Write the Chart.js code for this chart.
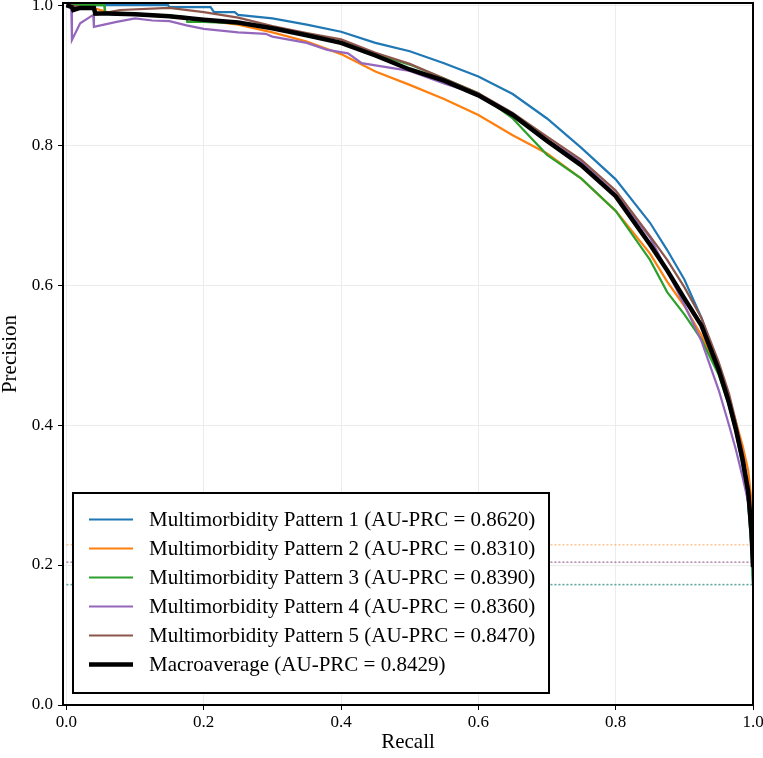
<!DOCTYPE html>
<html>
<head>
<meta charset="utf-8">
<script src="https://cdn.jsdelivr.net/npm/chart.js@4/dist/chart.umd.min.js"></script>
<style>
  body { margin: 0; background: #fff; }
  #wrap { width: 763px; height: 758px; }
</style>
</head>
<body>
<div id="wrap"><canvas id="prChart" width="763" height="758"></canvas></div>
<script>
const serif = "'Liberation Serif', 'Times New Roman', serif";

const patternNames = ["Multimorbidity Pattern 1", "Multimorbidity Pattern 2", "Multimorbidity Pattern 3",
  "Multimorbidity Pattern 4", "Multimorbidity Pattern 5"];
const auprc = ["0.8620", "0.8310", "0.8390", "0.8360", "0.8470"];
const macroAuprc = "0.8429";
const colors = ["#1f77b4", "#ff7f0e", "#2ca02c", "#9467bd", "#8c564b"];
const baselines = [0.172, 0.229, 0.172, 0.204, 0.204];
const xTicks = [0, 0.2, 0.4, 0.6, 0.8, 1.0];
const yTicks = [0, 0.2, 0.4, 0.6, 0.8, 1.0];

const recall1 = [0, 0.148, 0.15, 0.21, 0.215, 0.245, 0.25, 0.3, 0.35, 0.4, 0.45, 0.5, 0.55, 0.6, 0.65, 0.7, 0.75, 0.8, 0.85, 0.875, 0.9, 0.925, 0.95, 0.965, 0.975, 0.985, 0.993, 0.998, 1.0];
const prec1 = [1.0, 1.0, 0.997, 0.997, 0.99, 0.99, 0.986, 0.981, 0.972, 0.962, 0.946, 0.934, 0.917, 0.898, 0.873, 0.838, 0.796, 0.751, 0.689, 0.65, 0.608, 0.553, 0.482, 0.43, 0.39, 0.34, 0.29, 0.22, 0.172];

const recall2 = [0, 0.04, 0.042, 0.06, 0.1, 0.15, 0.2, 0.25, 0.3, 0.35, 0.4, 0.45, 0.5, 0.55, 0.6, 0.65, 0.7, 0.75, 0.8, 0.85, 0.875, 0.9, 0.925, 0.95, 0.965, 0.975, 0.985, 0.993, 0.998, 1.0];
const prec2 = [1.0, 1.0, 0.995, 0.99, 0.986, 0.983, 0.978, 0.972, 0.961, 0.948, 0.93, 0.905, 0.886, 0.866, 0.843, 0.814, 0.788, 0.752, 0.706, 0.645, 0.605, 0.57, 0.528, 0.476, 0.437, 0.405, 0.37, 0.335, 0.29, 0.229];

const recall3 = [0, 0.055, 0.056, 0.1, 0.15, 0.175, 0.176, 0.2, 0.25, 0.3, 0.35, 0.4, 0.45, 0.5, 0.55, 0.6, 0.65, 0.7, 0.75, 0.8, 0.85, 0.875, 0.9, 0.925, 0.95, 0.965, 0.975, 0.985, 0.993, 0.998, 1.0];
const prec3 = [1.0, 1.0, 0.99, 0.988, 0.985, 0.983, 0.976, 0.976, 0.974, 0.967, 0.956, 0.946, 0.93, 0.915, 0.895, 0.874, 0.838, 0.786, 0.752, 0.706, 0.636, 0.59, 0.558, 0.522, 0.472, 0.428, 0.39, 0.345, 0.29, 0.22, 0.172];

const recall4 = [0, 0.007, 0.008, 0.02, 0.039, 0.04, 0.073, 0.1, 0.125, 0.15, 0.175, 0.2, 0.25, 0.29, 0.3, 0.35, 0.38, 0.41, 0.43, 0.45, 0.5, 0.55, 0.6, 0.65, 0.7, 0.75, 0.8, 0.85, 0.875, 0.9, 0.925, 0.95, 0.965, 0.975, 0.985, 0.993, 0.998, 1.0];
const prec4 = [1.0, 1.0, 0.95, 0.974, 0.986, 0.969, 0.976, 0.981, 0.978, 0.977, 0.971, 0.966, 0.961, 0.959, 0.955, 0.946, 0.936, 0.931, 0.917, 0.914, 0.906, 0.888, 0.872, 0.843, 0.808, 0.776, 0.73, 0.668, 0.62, 0.572, 0.52, 0.45, 0.4, 0.365, 0.325, 0.29, 0.25, 0.204];

const recall5 = [0, 0.04, 0.041, 0.078, 0.15, 0.2, 0.25, 0.3, 0.35, 0.4, 0.45, 0.5, 0.55, 0.6, 0.65, 0.7, 0.75, 0.8, 0.85, 0.875, 0.9, 0.925, 0.95, 0.965, 0.975, 0.985, 0.993, 0.998, 1.0];
const prec5 = [1.0, 0.995, 0.986, 0.993, 0.996, 0.99, 0.982, 0.97, 0.96, 0.951, 0.932, 0.916, 0.895, 0.874, 0.846, 0.812, 0.779, 0.735, 0.67, 0.636, 0.597, 0.553, 0.49, 0.445, 0.405, 0.36, 0.31, 0.26, 0.204];

const recallMacro = [0, 0.008, 0.01, 0.02, 0.04, 0.042, 0.06, 0.1, 0.15, 0.2, 0.25, 0.3, 0.35, 0.4, 0.45, 0.5, 0.55, 0.6, 0.65, 0.7, 0.75, 0.8, 0.85, 0.875, 0.9, 0.925, 0.95, 0.965, 0.975, 0.985, 0.993, 0.998, 1.0];
const precMacro = [1.0, 0.997, 0.993, 0.996, 0.996, 0.988, 0.988, 0.987, 0.984, 0.979, 0.975, 0.967, 0.957, 0.946, 0.928, 0.908, 0.892, 0.871, 0.843, 0.806, 0.771, 0.727, 0.658, 0.621, 0.581, 0.542, 0.479, 0.432, 0.394, 0.35, 0.305, 0.245, 0.197];

const recalls = [recall1, recall2, recall3, recall4, recall5];
const precisions = [prec1, prec2, prec3, prec4, prec5];

function toPoints(xs, ys) {
  return xs.map((x, i) => ({ x: x, y: ys[i] }));
}

function fade(hex, a) {
  const n = parseInt(hex.slice(1), 16);
  return "rgba(" + (n >> 16) + "," + ((n >> 8) & 255) + "," + (n & 255) + "," + a + ")";
}

const datasets = [];
// chance-level lines, one per pattern
baselines.forEach((b, i) => {
  datasets.push({
    label: "baseline " + (i + 1),
    data: [{ x: 0, y: b }, { x: 1, y: b }],
    borderColor: fade(colors[i], 0.45),
    borderWidth: 1.5,
    borderDash: [2, 2],
    pointRadius: 0,
    showLine: true,
    isBaseline: true,
    order: 10
  });
});
patternNames.forEach((name, i) => {
  datasets.push({
    label: name + " (AU-PRC = " + auprc[i] + ")",
    data: toPoints(recalls[i], precisions[i]),
    borderColor: colors[i],
    borderWidth: 2.2,
    pointRadius: 0,
    showLine: true,
    order: 9 - i
  });
});
datasets.push({
  label: "Macroaverage (AU-PRC = " + macroAuprc + ")",
  data: toPoints(recallMacro, precMacro),
  borderColor: "#000",
  borderWidth: 4.5,
  pointRadius: 0,
  showLine: true,
  order: 0
});

const framePlugin = {
  id: "frame",
  afterDraw(chart) {
    const { ctx, chartArea: a } = chart;
    ctx.save();
    ctx.strokeStyle = "#000";
    ctx.lineWidth = 2;
    ctx.strokeRect(a.left, a.top, a.right - a.left, a.bottom - a.top);
    ctx.restore();
  }
};

const boxLegend = {
  id: "boxLegend",
  afterDraw(chart) {
    const ctx = chart.ctx;
    const items = chart.data.datasets.filter(d => !d.isBaseline);
    ctx.save();
    ctx.fillStyle = "#fff";
    ctx.fillRect(73, 493, 476, 200);
    ctx.strokeStyle = "#000";
    ctx.lineWidth = 2;
    ctx.strokeRect(73, 493, 476, 200);
    ctx.font = "21px " + serif;
    ctx.textBaseline = "middle";
    items.forEach((d, i) => {
      const y = 519.5 + i * 29;
      ctx.strokeStyle = d.borderColor;
      ctx.lineWidth = d.borderWidth;
      ctx.beginPath();
      ctx.moveTo(89, y);
      ctx.lineTo(133, y);
      ctx.stroke();
      ctx.fillStyle = "#000";
      ctx.fillText(d.label, 149, y + 1);
    });
    ctx.restore();
  }
};

new Chart(document.getElementById("prChart"), {
  type: "scatter",
  data: { datasets: datasets },
  plugins: [framePlugin, boxLegend],
  options: {
    responsive: false,
    animation: false,
    devicePixelRatio: 1,
    layout: { padding: { top: 3, right: 10, left: 0, bottom: 0 } },
    plugins: { legend: { display: false }, tooltip: { enabled: false } },
    scales: {
      x: {
        type: "linear",
        min: -0.005,
        max: 1.0,
        afterFit: s => { s.height = 53; s.paddingLeft = 0; s.paddingRight = 0; },
        afterBuildTicks: s => { s.ticks = xTicks.map(v => ({ value: v })); },
        ticks: {
          color: "#000",
          font: { family: serif, size: 17 },
          padding: 2,
          maxRotation: 0,
          callback: v => v.toFixed(1)
        },
        grid: { color: "#ececec", tickColor: "#000", tickLength: 5, lineWidth: 1 },
        border: { display: false },
        title: {
          display: true,
          text: "Recall",
          color: "#000",
          font: { family: serif, size: 21, lineHeight: 1 },
          padding: { top: 0, bottom: 5 }
        }
      },
      y: {
        type: "linear",
        min: 0,
        max: 1.003,
        afterFit: s => { s.width = 63; s.paddingTop = 0; s.paddingBottom = 0; },
        afterBuildTicks: s => { s.ticks = yTicks.map(v => ({ value: v })); },
        ticks: {
          color: "#000",
          font: { family: serif, size: 17 },
          padding: 5,
          callback: v => v.toFixed(1)
        },
        grid: { color: "#ececec", tickColor: "#000", tickLength: 5, lineWidth: 1 },
        border: { display: false },
        title: {
          display: true,
          text: "Precision",
          color: "#000",
          font: { family: serif, size: 21, lineHeight: 1 },
          padding: { top: 0, bottom: 0 }
        }
      }
    }
  }
});
</script>
</body>
</html>
